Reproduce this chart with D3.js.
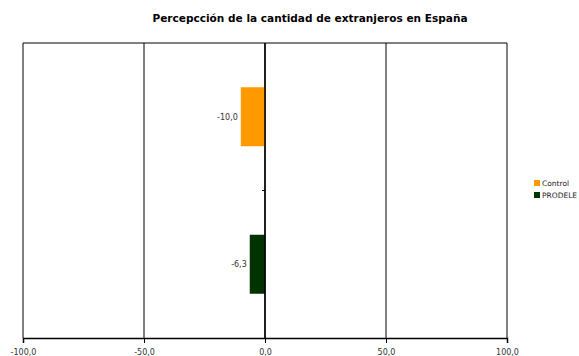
<!DOCTYPE html>
<html>
<head>
<meta charset="utf-8">
<script src="https://cdn.jsdelivr.net/npm/d3@7.9.0/dist/d3.min.js"></script>
<style>
  body { margin: 0; background: #fff; }
  svg text { font-family: "DejaVu Sans", Verdana, sans-serif; }
</style>
</head>
<body>
<svg width="579" height="356"></svg>
<script>
const categories = ['Control', 'PRODELE'];
const values = [-10.0, -6.3];
const colors = ['#FF9900', '#003300'];
const xTicks = [-100, -50, 0, 50, 100];

const svg = d3.select('svg');
const margin = { left: 23, right: 72, top: 43, bottom: 18 };
const W = 579, H = 356;

let x = d3.scaleLinear().domain([-100, 100]).range([margin.left, W - margin.right]);
let y = d3.scaleBand().domain(categories).range([margin.top, H - margin.bottom]).paddingInner(0.6).paddingOuter(0.3);
let band = d3.scaleBand().domain(categories).range([margin.top, H - margin.bottom]);

let fmt = (v) => v.toFixed(1).replace('.', ',');

// title
let title = svg.append('text')
  .attr('x', 310).attr('y', 22)
  .attr('text-anchor', 'middle')
  .attr('font-size', 10).attr('font-weight', 'bold')
  .text('Percepcción de la cantidad de extranjeros en España');
// fit to the reference width (153..468)
title.attr('textLength', 315).attr('lengthAdjust', 'spacingAndGlyphs');

// gridlines
svg.append('g')
  .selectAll('line')
  .data(xTicks)
  .join('line')
  .attr('x1', (d) => x(d)).attr('x2', (d) => x(d))
  .attr('y1', margin.top).attr('y2', H - margin.bottom)
  .attr('stroke', '#000').attr('stroke-width', 1);

// top border
svg.append('line')
  .attr('x1', x(-100)).attr('x2', x(100))
  .attr('y1', margin.top).attr('y2', margin.top)
  .attr('stroke', '#000');

// bars
svg.append('g')
  .selectAll('rect')
  .data(values)
  .join('rect')
  .attr('x', (d) => x(Math.min(0, d)))
  .attr('width', (d) => Math.abs(x(d) - x(0)))
  .attr('y', (d, i) => y(categories[i]))
  .attr('height', y.bandwidth())
  .attr('fill', (d, i) => colors[i]);

// zero line on top
svg.append('line')
  .attr('x1', x(0)).attr('x2', x(0))
  .attr('y1', margin.top).attr('y2', H - margin.bottom)
  .attr('stroke', '#000').attr('stroke-width', 1.5);

// category boundary tick
svg.append('line')
  .attr('x1', x(0) - 3).attr('x2', x(0))
  .attr('y1', band('PRODELE')).attr('y2', band('PRODELE'))
  .attr('stroke', '#000');

// value labels
svg.append('g')
  .selectAll('text')
  .data(values)
  .join('text')
  .attr('x', (d) => x(d) - 3)
  .attr('y', (d, i) => y(categories[i]) + y.bandwidth() / 2 + 3)
  .attr('text-anchor', 'end')
  .attr('font-size', 8)
  .attr('fill', '#333')
  .text((d) => fmt(d));

// x axis
let xAxis = svg.append('g')
  .attr('transform', `translate(0,${H - margin.bottom})`)
  .call(d3.axisBottom(x).tickValues(xTicks).tickSize(5).tickFormat(fmt));
xAxis.select('.domain').attr('stroke-width', 1.5);
xAxis.selectAll('text')
  .attr('font-size', 8).attr('fill', '#333')
  .attr('font-family', '"DejaVu Sans", Verdana, sans-serif')
  .attr('dy', '1.1em');

// legend
let legend = svg.append('g').attr('transform', 'translate(534,180)');
categories.forEach((c, i) => {
  legend.append('rect')
    .attr('x', 0).attr('y', i * 12)
    .attr('width', 6).attr('height', 6)
    .attr('fill', colors[i]);
  legend.append('text')
    .attr('x', 8).attr('y', i * 12 + 6)
    .attr('font-size', 7.5)
    .attr('fill', '#222')
    .text(c);
});
</script>
</body>
</html>
